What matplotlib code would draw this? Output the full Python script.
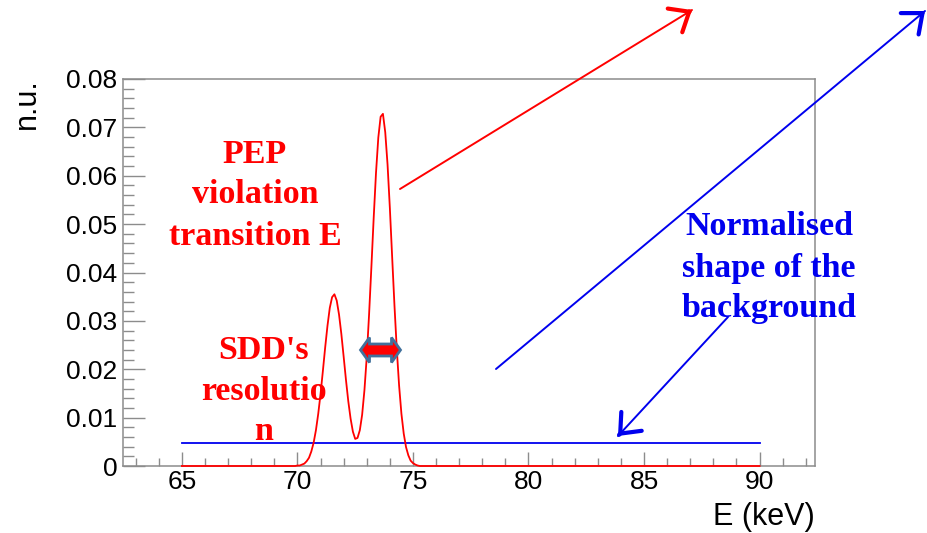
import numpy as np
import matplotlib.pyplot as plt
from matplotlib.patches import FancyArrowPatch, Polygon
from matplotlib.ticker import MultipleLocator

# PEP violating transition, two lines smeared by SDD resolution
energy = [65.0, 69.9,
          70.0, 70.1, 70.2, 70.3, 70.4, 70.5, 70.6, 70.7, 70.8, 70.9,
          71.0, 71.1, 71.2, 71.3, 71.4, 71.5, 71.6, 71.7, 71.8, 71.9,
          72.0, 72.1, 72.2, 72.3, 72.4, 72.5, 72.6, 72.7, 72.8, 72.9,
          73.0, 73.1, 73.2, 73.3, 73.4, 73.5, 73.6, 73.7, 73.8, 73.9,
          74.0, 74.1, 74.2, 74.3, 74.4, 74.5, 74.6, 74.7, 74.8, 74.9,
          75.0, 75.1, 75.2, 75.3, 90.0]
signal = [0.0, 0.0,
          0.0001, 0.0001, 0.0003, 0.0005, 0.0010, 0.0017, 0.0030, 0.0048, 0.0074, 0.0108,
          0.0149, 0.0196, 0.0245, 0.0290, 0.0327, 0.0349, 0.0355, 0.0342, 0.0313, 0.0273,
          0.0226, 0.0178, 0.0134, 0.0098, 0.0071, 0.0056, 0.0058, 0.0074, 0.0106, 0.0157,
          0.0226, 0.0313, 0.0411, 0.0513, 0.0606, 0.0679, 0.0722, 0.0728, 0.0690, 0.0623,
          0.0533, 0.0431, 0.0331, 0.0241, 0.0166, 0.0108, 0.0067, 0.0039, 0.0022, 0.0011,
          0.0006, 0.0003, 0.0001, 0.0, 0.0]

# flat background shape
bkg_energy = [65.0, 90.0]
bkg_level = [0.0047, 0.0047]

W, H = 927, 533


def px(x, y):
    # pixel position in the picture -> figure fraction
    return (x / W, 1 - y / H)


fig = plt.figure(figsize=(W / 100, H / 100), dpi=100)
ax = fig.add_axes([123 / W, 1 - 466 / H, (815 - 123) / W, (466 - 79) / H])

ax.plot(bkg_energy, bkg_level, color='#0000ee', lw=1.3, zorder=3)
ax.plot(energy, signal, color='red', lw=1.3, zorder=4, clip_on=False)

ax.set_xlim(62.45, 92.4)
ax.set_ylim(0, 0.08)
ax.xaxis.set_major_locator(MultipleLocator(5))
ax.xaxis.set_minor_locator(MultipleLocator(1))
ax.yaxis.set_minor_locator(MultipleLocator(0.002))
ax.set_yticks([0, 0.01, 0.02, 0.03, 0.04, 0.05, 0.06, 0.07, 0.08])
ax.set_yticklabels(['0', '0.01', '0.02', '0.03', '0.04', '0.05', '0.06', '0.07', '0.08'])

for s in ax.spines.values():
    s.set_color('#8c8c8c')
    s.set_linewidth(1.1)
ax.tick_params(which='both', direction='in', color='#8c8c8c', width=1.0,
               labelsize=19, labelcolor='black')
ax.tick_params(axis='x', which='major', length=10, pad=3)
ax.tick_params(axis='x', which='minor', length=6)
ax.tick_params(axis='y', which='major', length=16, pad=4)
ax.tick_params(axis='y', which='minor', length=8)
for lab in ax.get_xticklabels() + ax.get_yticklabels():
    lab.set_family('Liberation Sans')

fig.text(*px(27, 78), 'n.u.', rotation=90, ha='center', va='top',
         fontsize=22, family='Liberation Sans')
fig.text(*px(815, 525), 'E (keV)', ha='right', va='baseline',
         fontsize=22, family='Liberation Sans')

# annotation texts
serif = dict(family='Liberation Serif', fontweight='bold', fontsize=24.5,
             ha='center', va='baseline')
for txt, yb in [('PEP', 163), ('violation', 203), ('transition E', 245)]:
    fig.text(*px(255, yb), txt, color='red', **serif)
for txt, yb in [("SDD's", 359), ('resolutio', 400), ('n', 440)]:
    fig.text(*px(264, yb), txt, color='red', **serif)
for txt, yb in [('Normalised', 235), ('shape of the', 277), ('background', 317)]:
    fig.text(*px(769, yb), txt, color='#0000ee', **serif)


def arrow(start, tip, color):
    p0 = np.array(px(*start))
    p1 = np.array(px(*tip))
    fig.add_artist(FancyArrowPatch(p0, p1, transform=fig.transFigure,
                                   arrowstyle='-', color=color, lw=1.4,
                                   shrinkA=0, shrinkB=0))
    back = p1 - (p1 - p0) * 0.01
    fig.add_artist(FancyArrowPatch(back, p1, transform=fig.transFigure,
                                   arrowstyle='->,head_length=0.6,head_width=0.5',
                                   mutation_scale=20, color=color, lw=3.0,
                                   shrinkA=0, shrinkB=0))


arrow((400, 189), (692, 10), 'red')
arrow((496, 369), (925, 11), '#0000ee')
arrow((728, 317), (618, 436), '#0000ee')

# resolution marker between the peaks (double arrow, drawn in picture pixels)
cx, cy, half, hl, hw, bw = 380.5, 350, 20, 9, 12.5, 6
outline = [(cx - half, cy), (cx - half + hl, cy - hw), (cx - half + hl, cy - bw),
           (cx + half - hl, cy - bw), (cx + half - hl, cy - hw), (cx + half, cy),
           (cx + half - hl, cy + hw), (cx + half - hl, cy + bw), (cx - half + hl, cy + bw),
           (cx - half + hl, cy + hw)]
fig.add_artist(Polygon([px(x, y) for x, y in outline], closed=True,
                       transform=fig.transFigure, facecolor='red',
                       edgecolor='#41719c', lw=2.0, zorder=5))

fig.savefig('out.png', dpi=100)
